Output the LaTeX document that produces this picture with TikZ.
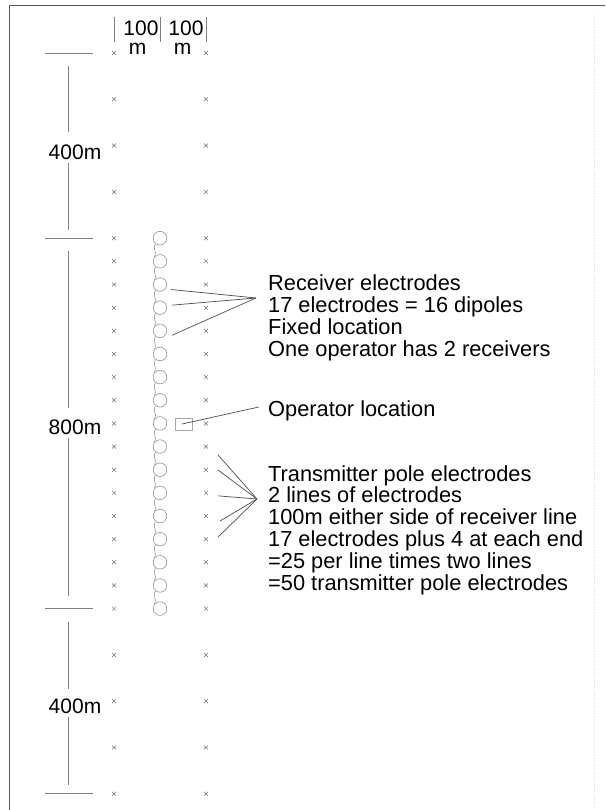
\documentclass[tikz,border=0pt]{standalone}
\usepackage{fontspec}
\setmainfont{Liberation Sans}
\usetikzlibrary{shapes.misc,calc}
\begin{document}
\begin{tikzpicture}[x=1pt,y=-1pt,
  xmark/.style={cross out,draw=black!55,line width=0.5pt,minimum size=3.6pt,inner sep=0pt},
  rcv/.style={circle,draw=black!42,line width=0.6pt,minimum size=13.6pt,inner sep=0pt},
  chainline/.style={draw=black!42,line width=0.6pt},
  opbox/.style={draw=black!35,line width=0.6pt,minimum width=17pt,minimum height=12pt,inner sep=0pt},
  lead/.style={draw=black!70,line width=0.7pt},
  dim/.style={draw=black!50,line width=0.9pt},
  frameline/.style={draw=black!65,line width=1.8pt},
  note/.style={anchor=north west,inner sep=0pt,align=left,font=\fontsize{21.8}{21.9}\selectfont},
  lab/.style={inner sep=0pt,font=\fontsize{21}{21}\selectfont}]
\useasboundingbox (0,0) rectangle (605,810);
\def\s{23.15}
% frame
\draw[frameline] (9.5,810) -- (9.5,5.5) -- (605,5.5);
\draw[black!15,dotted,line width=0.6pt] (594,14) -- (594,810);
% transmitter electrodes (two lines of 25)
\foreach \k in {0,...,24} {
  \pgfmathsetmacro{\yy}{53 + \s*(\k<4 ? 2*\k : (\k<=20 ? 8+(\k-4) : 24+2*(\k-20)))}
  \node[xmark] (tL\k) at (114,\yy) {};
  \node[xmark] (tR\k) at (206,\yy) {};
}
% receiver electrodes
\foreach \j in {0,...,16} {
  \node[rcv] (r\j) at (160,{53+(8+\j)*\s}) {};
}
\foreach \j [evaluate=\j as \jn using int(\j+1)] in {0,...,15} {
  \draw[chainline] (r\j.230) .. controls +(-3.5,5) and +(3,-5) .. (r\jn.140);
}
% operator box
\node[opbox] (op) at (183.5,424.5) {};
% header
\coordinate (b1a) at (114,17); \coordinate (b1b) at (114,42);
\coordinate (b2a) at (160,17); \coordinate (b2b) at (160,42);
\coordinate (b3a) at (206,17); \coordinate (b3b) at (206,42);
\draw[dim] (b1a) -- (b1b); \draw[dim] (b2a) -- (b2b); \draw[dim] (b3a) -- (b3b);
\node[lab] (h1) at (141,28) {100};
\node[lab,anchor=base] (h1m) at (137.5,55) {m};
\node[lab] (h2) at (186,28) {100};
\node[lab,anchor=base] (h2m) at (182.5,55) {m};
% dimensions
\foreach \n/\y in {1/53,2/238.2,3/608.6,4/793.8} {
  \coordinate (k\n a) at (45,\y); \coordinate (k\n b) at (93,\y);
  \draw[dim] (k\n a) -- (k\n b);
}
\node[lab] (d1) at (75,152) {400m};
\node[lab] (d2) at (75,427) {800m};
\node[lab] (d3) at (75,706) {400m};
\draw[dim] (68,66) -- ($(d1)+(-7,-20)$);
\draw[dim] ($(d1)+(-7,11)$) -- (68,230);
\draw[dim] (68,251) -- ($(d2)+(-7,-19)$);
\draw[dim] ($(d2)+(-7,11)$) -- (68,596);
\draw[dim] (68,622) -- ($(d3)+(-7,-17)$);
\draw[dim] ($(d3)+(-7,11)$) -- (68,785);
% annotations
\node[note] (rtxt) at (268,275) {Receiver electrodes\\17 electrodes = 16 dipoles\\Fixed location\\One operator has 2 receivers};
\coordinate (rj) at ($(rtxt.north west)+(-12,23)$);
\draw[lead] ($(r2)+(11,5)$) -- (rj);
\draw[lead] ($(r3)+(12,-2.5)$) -- (rj);
\draw[lead] ($(r4)+(12,4.5)$) -- (rj);
\node[note] (otxt) at (268,400) {Operator location};
\draw[lead] ($(op)+(-1.5,-0.5)$) -- ($(otxt.north west)+(-9,7)$);
\node[note] (ttxt) at (268,465) {Transmitter pole electrodes\\2 lines of electrodes\\100m either side of receiver line\\17 electrodes plus 4 at each end\\=25 per line times two lines\\=50 transmitter pole electrodes};
\coordinate (tj) at ($(ttxt.north west)+(-11,34)$);
\draw[lead] ($(tR13)+(12,8.4)$) -- (tj);
\draw[lead] ($(tR14)+(12,0.3)$) -- (tj);
\draw[lead] ($(tR15)+(12,3)$) -- (tj);
\draw[lead] ($(tR16)+(14,5)$) -- (tj);
\draw[lead] ($(tR17)+(12,-2)$) -- (tj);
\end{tikzpicture}
\end{document}
